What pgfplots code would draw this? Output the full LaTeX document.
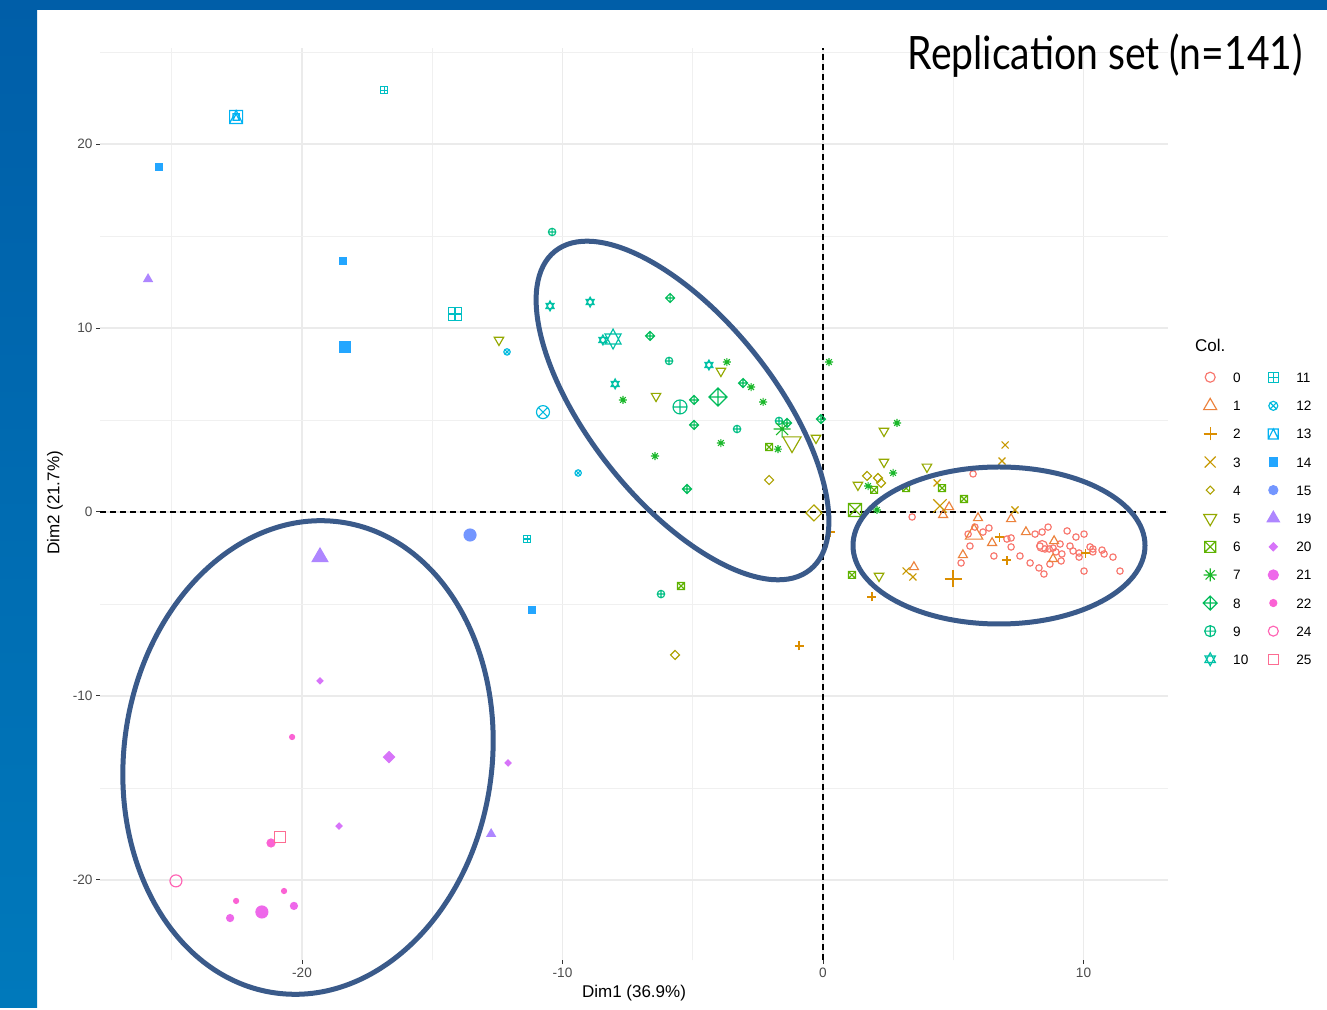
\documentclass[border=0pt]{standalone}
\usepackage{pgfplots}
\pgfplotsset{compat=1.18}
\usepackage{graphicx}
\usepackage{fontspec}
\setmainfont{Liberation Sans}
\newfontfamily\titlefont{Lato}
\usetikzlibrary{plotmarks}

\definecolor{c0}{HTML}{F8766D}
\definecolor{c1}{HTML}{EC823C}
\definecolor{c2}{HTML}{DB8E00}
\definecolor{c3}{HTML}{C79800}
\definecolor{c4}{HTML}{AEA200}
\definecolor{c5}{HTML}{94A900}
\definecolor{c6}{HTML}{5EB200}
\definecolor{c7}{HTML}{1AB82A}
\definecolor{c8}{HTML}{00BC5A}
\definecolor{c9}{HTML}{00BF84}
\definecolor{c10}{HTML}{00C1A6}
\definecolor{c11}{HTML}{00BFC4}
\definecolor{c12}{HTML}{00BADE}
\definecolor{c13}{HTML}{00B2F2}
\definecolor{c14}{HTML}{23A6FF}
\definecolor{c15}{HTML}{7396FF}
\definecolor{c19}{HTML}{AE86FF}
\definecolor{c20}{HTML}{D774F9}
\definecolor{c21}{HTML}{EE68EA}
\definecolor{c22}{HTML}{FB62D4}
\definecolor{c24}{HTML}{FF63B4}
\definecolor{c25}{HTML}{FD6C92}
\definecolor{ellcol}{HTML}{3A5A8A}
\definecolor{bandtop}{HTML}{005EA8}
\definecolor{bandbot}{HTML}{0079BB}

% --- R-like plot marks ---
\pgfdeclareplotmark{utri}{%
  \pgfpathmoveto{\pgfqpoint{0pt}{\pgfplotmarksize}}%
  \pgfpathlineto{\pgfqpoint{0.866\pgfplotmarksize}{-0.5\pgfplotmarksize}}%
  \pgfpathlineto{\pgfqpoint{-0.866\pgfplotmarksize}{-0.5\pgfplotmarksize}}%
  \pgfpathclose\pgfusepathqstroke}
\pgfdeclareplotmark{utri*}{%
  \pgfpathmoveto{\pgfqpoint{0pt}{\pgfplotmarksize}}%
  \pgfpathlineto{\pgfqpoint{0.866\pgfplotmarksize}{-0.5\pgfplotmarksize}}%
  \pgfpathlineto{\pgfqpoint{-0.866\pgfplotmarksize}{-0.5\pgfplotmarksize}}%
  \pgfpathclose\pgfusepathqfillstroke}
\pgfdeclareplotmark{dtri}{%
  \pgfpathmoveto{\pgfqpoint{0pt}{-\pgfplotmarksize}}%
  \pgfpathlineto{\pgfqpoint{0.866\pgfplotmarksize}{0.5\pgfplotmarksize}}%
  \pgfpathlineto{\pgfqpoint{-0.866\pgfplotmarksize}{0.5\pgfplotmarksize}}%
  \pgfpathclose\pgfusepathqstroke}
\pgfdeclareplotmark{rdiam}{%
  \pgfpathmoveto{\pgfqpoint{0pt}{\pgfplotmarksize}}%
  \pgfpathlineto{\pgfqpoint{\pgfplotmarksize}{0pt}}%
  \pgfpathlineto{\pgfqpoint{0pt}{-\pgfplotmarksize}}%
  \pgfpathlineto{\pgfqpoint{-\pgfplotmarksize}{0pt}}%
  \pgfpathclose\pgfusepathqstroke}
\pgfdeclareplotmark{rdiam*}{%
  \pgfpathmoveto{\pgfqpoint{0pt}{\pgfplotmarksize}}%
  \pgfpathlineto{\pgfqpoint{\pgfplotmarksize}{0pt}}%
  \pgfpathlineto{\pgfqpoint{0pt}{-\pgfplotmarksize}}%
  \pgfpathlineto{\pgfqpoint{-\pgfplotmarksize}{0pt}}%
  \pgfpathclose\pgfusepathqfillstroke}
\pgfdeclareplotmark{rsq}{%
  \pgfpathrectangle{\pgfqpoint{-\pgfplotmarksize}{-\pgfplotmarksize}}{\pgfqpoint{2\pgfplotmarksize}{2\pgfplotmarksize}}%
  \pgfusepathqstroke}
\pgfdeclareplotmark{rsq*}{%
  \pgfpathrectangle{\pgfqpoint{-\pgfplotmarksize}{-\pgfplotmarksize}}{\pgfqpoint{2\pgfplotmarksize}{2\pgfplotmarksize}}%
  \pgfusepathqfillstroke}
\pgfdeclareplotmark{rx}{%
  \pgfpathmoveto{\pgfqpoint{-\pgfplotmarksize}{-\pgfplotmarksize}}\pgfpathlineto{\pgfqpoint{\pgfplotmarksize}{\pgfplotmarksize}}%
  \pgfpathmoveto{\pgfqpoint{-\pgfplotmarksize}{\pgfplotmarksize}}\pgfpathlineto{\pgfqpoint{\pgfplotmarksize}{-\pgfplotmarksize}}%
  \pgfusepathqstroke}
\pgfdeclareplotmark{rplus}{%
  \pgfpathmoveto{\pgfqpoint{-\pgfplotmarksize}{0pt}}\pgfpathlineto{\pgfqpoint{\pgfplotmarksize}{0pt}}%
  \pgfpathmoveto{\pgfqpoint{0pt}{-\pgfplotmarksize}}\pgfpathlineto{\pgfqpoint{0pt}{\pgfplotmarksize}}%
  \pgfusepathqstroke}
\pgfdeclareplotmark{sqx}{%
  \pgfpathrectangle{\pgfqpoint{-\pgfplotmarksize}{-\pgfplotmarksize}}{\pgfqpoint{2\pgfplotmarksize}{2\pgfplotmarksize}}%
  \pgfpathmoveto{\pgfqpoint{-\pgfplotmarksize}{-\pgfplotmarksize}}\pgfpathlineto{\pgfqpoint{\pgfplotmarksize}{\pgfplotmarksize}}%
  \pgfpathmoveto{\pgfqpoint{-\pgfplotmarksize}{\pgfplotmarksize}}\pgfpathlineto{\pgfqpoint{\pgfplotmarksize}{-\pgfplotmarksize}}%
  \pgfusepathqstroke}
\pgfdeclareplotmark{sqplus}{%
  \pgfpathrectangle{\pgfqpoint{-\pgfplotmarksize}{-\pgfplotmarksize}}{\pgfqpoint{2\pgfplotmarksize}{2\pgfplotmarksize}}%
  \pgfpathmoveto{\pgfqpoint{-\pgfplotmarksize}{0pt}}\pgfpathlineto{\pgfqpoint{\pgfplotmarksize}{0pt}}%
  \pgfpathmoveto{\pgfqpoint{0pt}{-\pgfplotmarksize}}\pgfpathlineto{\pgfqpoint{0pt}{\pgfplotmarksize}}%
  \pgfusepathqstroke}
\pgfdeclareplotmark{sqtri}{%
  \pgfpathrectangle{\pgfqpoint{-\pgfplotmarksize}{-\pgfplotmarksize}}{\pgfqpoint{2\pgfplotmarksize}{2\pgfplotmarksize}}%
  \pgfpathmoveto{\pgfqpoint{-\pgfplotmarksize}{-\pgfplotmarksize}}%
  \pgfpathlineto{\pgfqpoint{0pt}{\pgfplotmarksize}}%
  \pgfpathlineto{\pgfqpoint{\pgfplotmarksize}{-\pgfplotmarksize}}%
  \pgfusepathqstroke}
\pgfdeclareplotmark{dplus}{%
  \pgfpathmoveto{\pgfqpoint{0pt}{\pgfplotmarksize}}%
  \pgfpathlineto{\pgfqpoint{\pgfplotmarksize}{0pt}}%
  \pgfpathlineto{\pgfqpoint{0pt}{-\pgfplotmarksize}}%
  \pgfpathlineto{\pgfqpoint{-\pgfplotmarksize}{0pt}}%
  \pgfpathclose
  \pgfpathmoveto{\pgfqpoint{-\pgfplotmarksize}{0pt}}\pgfpathlineto{\pgfqpoint{\pgfplotmarksize}{0pt}}%
  \pgfpathmoveto{\pgfqpoint{0pt}{-\pgfplotmarksize}}\pgfpathlineto{\pgfqpoint{0pt}{\pgfplotmarksize}}%
  \pgfusepathqstroke}
\pgfdeclareplotmark{ast}{%
  \pgfpathmoveto{\pgfqpoint{-\pgfplotmarksize}{0pt}}\pgfpathlineto{\pgfqpoint{\pgfplotmarksize}{0pt}}%
  \pgfpathmoveto{\pgfqpoint{0pt}{-\pgfplotmarksize}}\pgfpathlineto{\pgfqpoint{0pt}{\pgfplotmarksize}}%
  \pgfpathmoveto{\pgfqpoint{-0.707\pgfplotmarksize}{-0.707\pgfplotmarksize}}\pgfpathlineto{\pgfqpoint{0.707\pgfplotmarksize}{0.707\pgfplotmarksize}}%
  \pgfpathmoveto{\pgfqpoint{-0.707\pgfplotmarksize}{0.707\pgfplotmarksize}}\pgfpathlineto{\pgfqpoint{0.707\pgfplotmarksize}{-0.707\pgfplotmarksize}}%
  \pgfusepathqstroke}
\pgfdeclareplotmark{david}{%
  \pgfpathmoveto{\pgfqpoint{0pt}{\pgfplotmarksize}}%
  \pgfpathlineto{\pgfqpoint{0.8\pgfplotmarksize}{-0.5\pgfplotmarksize}}%
  \pgfpathlineto{\pgfqpoint{-0.8\pgfplotmarksize}{-0.5\pgfplotmarksize}}%
  \pgfpathclose
  \pgfpathmoveto{\pgfqpoint{0pt}{-\pgfplotmarksize}}%
  \pgfpathlineto{\pgfqpoint{0.8\pgfplotmarksize}{0.5\pgfplotmarksize}}%
  \pgfpathlineto{\pgfqpoint{-0.8\pgfplotmarksize}{0.5\pgfplotmarksize}}%
  \pgfpathclose
  \pgfusepathqstroke}

\tikzset{
  pt/.style={only marks, line width=1.15pt, mark options={solid}},
  g0/.style={pt, color=c0, mark=o},
  g1/.style={pt, color=c1, mark=utri},
  g2/.style={pt, color=c2, mark=rplus},
  g3/.style={pt, color=c3, mark=rx},
  g4/.style={pt, color=c4, mark=rdiam},
  g5/.style={pt, color=c5, mark=dtri},
  g6/.style={pt, color=c6, mark=sqx},
  g7/.style={pt, color=c7, mark=ast},
  g8/.style={pt, color=c8, mark=dplus},
  g9/.style={pt, color=c9, mark=oplus},
  g10/.style={pt, color=c10, mark=david},
  g11/.style={pt, color=c11, mark=sqplus},
  g12/.style={pt, color=c12, mark=otimes},
  g13/.style={pt, color=c13, mark=sqtri},
  g14/.style={pt, color=c14, mark=rsq*},
  g15/.style={pt, color=c15, mark=*},
  g19/.style={pt, color=c19, mark=utri*},
  g20/.style={pt, color=c20, mark=rdiam*},
  g21/.style={pt, color=c21, mark=*},
  g22/.style={pt, color=c22, mark=*},
  g24/.style={pt, color=c24, mark=o},
  g25/.style={pt, color=c25, mark=rsq},
}

\begin{document}
\begin{tikzpicture}
\fill[white] (0pt,0pt) rectangle (1327pt,1007pt);
\shade[top color=bandtop, bottom color=bandbot] (0pt,0pt) rectangle (37pt,1007pt);
\fill[bandtop] (0pt,997pt) rectangle (1327pt,1007pt);

\begin{axis}[
  at={(100pt,47pt)}, anchor=south west,
  scale only axis, width=1068pt, height=912pt,
  xmin=-27.755, xmax=13.244, ymin=-24.35, ymax=25.22,
  axis line style={draw=none},
  tick align=outside, xtick pos=bottom, ytick pos=left,
  xtick={-20,-10,0,10}, ytick={-20,-10,0,10,20},
  minor xtick={-25,-15,-5,5}, minor ytick={-15,-5,5,15,25},
  major tick length=4pt, minor tick length=0pt,
  tick style={color=black!80, line width=1pt},
  grid=both,
  major grid style={color=black!8, line width=1.4pt},
  minor grid style={color=black!6, line width=0.7pt},
  /pgf/number format/assume math mode=true,
  tick label style={color=black!70, font=\fontsize{13.6}{16}\selectfont},
  legend columns=2,
  legend cell align=left,
  legend image code/.code={\path[draw=none,fill=none] (0pt,-6pt) rectangle (16pt,6pt); \draw[#1] plot coordinates {(8pt,0pt)};},
  legend style={at={(1.0318,0.6469)}, anchor=north west, draw=none, fill=none,
    inner sep=0pt, font=\fontsize{13.6}{16}\selectfont, row sep=14.1pt,
    nodes={inner sep=2pt, text height=10pt, text depth=0pt},
    /tikz/every odd column/.append style={column sep=13pt},
    /tikz/every even column/.append style={column sep=15pt}},
]
\draw[black, line width=1.6pt, dash pattern=on 6pt off 4pt] (axis cs:0,-24.35) -- (axis cs:0,25.22);
\draw[black, line width=1.6pt, dash pattern=on 6pt off 4pt] (axis cs:-27.755,0) -- (axis cs:13.244,0);

% ---- individual points ----
\addplot[g0, mark size=3.2pt, forget plot] coordinates {
(5.76,2.07) (3.42,-0.27) (5.57,-1.20) (5.83,-0.82) (5.64,-1.85) (5.30,-2.77) (6.14,-1.09) (6.37,-0.87)
(6.56,-2.39) (7.06,-1.47) (7.22,-1.41) (7.22,-1.90) (7.56,-2.39) (7.95,-2.77) (8.14,-1.20) (8.41,-1.09)
(8.64,-0.82) (8.29,-3.04) (8.48,-3.37) (8.33,-1.85) (8.52,-2.01) (8.68,-2.01) (8.83,-1.96) (9.10,-1.74)
(9.17,-2.28) (9.14,-2.66) (8.71,-2.83) (9.37,-1.03) (9.48,-1.85) (9.71,-1.36) (9.60,-2.12) (9.83,-2.23)
(9.83,-2.45) (10.02,-1.20) (10.02,-3.21) (10.25,-1.90) (10.36,-2.01) (10.36,-2.17) (10.71,-2.07)
(10.79,-2.28) (11.13,-2.45) (11.40,-3.21) (8.94,-2.17)};
\addplot[g1, mark size=5.2pt, forget plot] coordinates {
(5.95,-0.33) (5.37,-2.34) (6.49,-1.68) (7.22,-0.38) (7.79,-1.09) (8.87,-1.58) (8.83,-2.55) (4.84,0.27) (4.61,-0.16) (3.49,-2.99)};
\addplot[g2, mark size=4.5pt, forget plot] coordinates {
(6.76,-1.36) (7.06,-2.61) (10.06,-2.23) (1.88,-4.62) (-0.92,-7.28) (0.27,-1.09)};
\addplot[g3, mark size=3.5pt, forget plot] coordinates {
(6.99,3.64) (6.87,2.77) (4.38,1.58) (7.37,0.11) (3.19,-3.21) (3.45,-3.53)};
\addplot[g4, mark size=4.5pt, forget plot] coordinates {
(-2.07,1.74) (-5.68,-7.77) (1.69,1.96) (2.11,1.85) (2.23,1.58)};
\addplot[g5, mark size=5.5pt, forget plot] coordinates {
(-12.44,9.35) (-6.41,6.30) (-3.92,7.66) (-0.27,4.02) (2.34,4.40) (2.34,2.72) (3.99,2.45) (1.34,1.47) (2.15,-3.48)};
\addplot[g6, mark size=3.5pt, forget plot] coordinates {
(-5.45,-4.02) (1.11,-3.42) (1.96,1.20) (3.19,1.30) (4.57,1.30) (5.41,0.71) (-2.07,3.53)};
\addplot[g7, mark size=4pt, forget plot] coordinates {
(-3.69,8.15) (-2.76,6.79) (-2.30,5.98) (-3.92,3.75) (-7.68,6.09) (-6.45,3.04) (-1.73,3.42) (0.23,8.15)
(2.84,4.84) (2.69,2.12) (1.73,1.41) (2.07,0.11)};
\addplot[g8, mark size=4.5pt, forget plot] coordinates {
(-5.87,11.63) (-6.64,9.57) (-4.95,6.09) (-4.95,4.73) (-3.07,7.01) (-5.22,1.25) (-0.08,5.05) (-1.38,4.84)};
\addplot[g9, mark size=3.7pt, forget plot] coordinates {
(-10.40,15.22) (-5.91,8.21) (-3.30,4.51) (-1.69,4.95) (-6.22,-4.46)};
\addplot[g10, mark size=5pt, forget plot] coordinates {
(-10.48,11.20) (-8.94,11.41) (-8.45,9.35) (-7.98,6.96) (-4.38,7.99)};
\addplot[g11, mark size=3.2pt, forget plot] coordinates {(-16.85,22.93) (-11.36,-1.47)};
\addplot[g12, mark size=3.2pt, forget plot] coordinates {(-12.13,8.70) (-9.40,2.12)};
\addplot[g13, mark size=3.2pt, forget plot] coordinates {(-22.53,21.47)};
\addplot[g14, mark size=3.2pt, forget plot] coordinates {(-25.49,18.75) (-18.43,13.64) (-11.17,-5.33)};
\addplot[g19, mark size=4.8pt, forget plot] coordinates {(-25.91,12.66) (-12.74,-17.50)};
\addplot[g20, mark size=3pt, forget plot] coordinates {(-19.31,-9.18) (-12.09,-13.64) (-18.58,-17.07)};
\addplot[g21, mark size=3.5pt, forget plot] coordinates {(-22.76,-22.07) (-20.31,-21.41)};
\addplot[g22, mark size=2.5pt, forget plot] coordinates {(-20.38,-12.23) (-22.53,-21.14) (-20.69,-20.60)};

% ---- group mean points ----
\addplot[g0, mark size=5.5pt, forget plot] coordinates {(8.41,-1.85)};
\addplot[g1, mark size=10pt, forget plot] coordinates {(5.80,-1.20)};
\addplot[g2, mark size=8.5pt, forget plot] coordinates {(4.99,-3.64)};
\addplot[g3, mark size=6.7pt, forget plot] coordinates {(4.49,0.33)};
\addplot[g4, mark size=8pt, forget plot] coordinates {(-0.35,-0.05)};
\addplot[g5, mark size=10.5pt, forget plot] coordinates {(-1.19,3.80)};
\addplot[g6, mark size=6.5pt, forget plot] coordinates {(1.23,0.11)};
\addplot[g7, mark size=8.5pt, forget plot] coordinates {(-1.57,4.51)};
\addplot[g8, mark size=9pt, forget plot] coordinates {(-4.03,6.25)};
\addplot[g9, mark size=7pt, forget plot] coordinates {(-5.49,5.71)};
\addplot[g10, mark size=10pt, forget plot] coordinates {(-8.06,9.40)};
\addplot[g11, mark size=6.5pt, forget plot] coordinates {(-14.13,10.76)};
\addplot[g12, mark size=6.5pt, forget plot] coordinates {(-10.75,5.43)};
\addplot[g13, mark size=6.5pt, forget plot] coordinates {(-22.53,21.47)};
\addplot[g14, mark size=5.5pt, forget plot] coordinates {(-18.35,8.97)};
\addplot[g15, mark size=6pt, forget plot] coordinates {(-13.55,-1.25)};
\addplot[g19, mark size=9pt, forget plot] coordinates {(-19.31,-2.45)};
\addplot[g20, mark size=5.5pt, forget plot] coordinates {(-16.66,-13.32)};
\addplot[g21, mark size=6pt, forget plot] coordinates {(-21.54,-21.74)};
\addplot[g22, mark size=4pt, forget plot] coordinates {(-21.19,-17.99)};
\addplot[g24, mark size=6pt, forget plot] coordinates {(-24.84,-20.05)};
\addplot[g25, mark size=5.5pt, forget plot] coordinates {(-20.84,-17.66)};

% ---- legend (two columns: 0-10 | 11-25) ----
\addlegendimage{g0, mark size=5pt}\addlegendentry{0}
\addlegendimage{g11, mark size=5pt}\addlegendentry{11}
\addlegendimage{g1, mark size=7.5pt}\addlegendentry{1}
\addlegendimage{g12, mark size=4.5pt}\addlegendentry{12}
\addlegendimage{g2, mark size=6.5pt}\addlegendentry{2}
\addlegendimage{g13, mark size=5pt}\addlegendentry{13}
\addlegendimage{g3, mark size=5.5pt}\addlegendentry{3}
\addlegendimage{g14, mark size=4pt}\addlegendentry{14}
\addlegendimage{g4, mark size=4pt}\addlegendentry{4}
\addlegendimage{g15, mark size=4.5pt}\addlegendentry{15}
\addlegendimage{g5, mark size=7.5pt}\addlegendentry{5}
\addlegendimage{g19, mark size=7pt}\addlegendentry{19}
\addlegendimage{g6, mark size=5.5pt}\addlegendentry{6}
\addlegendimage{g20, mark size=4pt}\addlegendentry{20}
\addlegendimage{g7, mark size=6.5pt}\addlegendentry{7}
\addlegendimage{g21, mark size=5pt}\addlegendentry{21}
\addlegendimage{g8, mark size=7pt}\addlegendentry{8}
\addlegendimage{g22, mark size=3.5pt}\addlegendentry{22}
\addlegendimage{g9, mark size=5.5pt}\addlegendentry{9}
\addlegendimage{g24, mark size=5pt}\addlegendentry{24}
\addlegendimage{g10, mark size=6.5pt}\addlegendentry{10}
\addlegendimage{g25, mark size=5pt}\addlegendentry{25}
\end{axis}

% annotation ellipses
\draw[ellcol, line width=5pt, rotate around={-51.3:(682.5pt,596.5pt)}] (682.5pt,596.5pt) ellipse (204pt and 92pt);
\draw[ellcol, line width=5pt] (999pt,461.5pt) ellipse (146pt and 78.5pt);
\draw[ellcol, line width=5pt, rotate around={82.1:(308pt,249.5pt)}] (308pt,249.5pt) ellipse (237.7pt and 184pt);

% texts
\node[anchor=base east, inner sep=0pt] at (1303pt,937pt) {\resizebox{395pt}{\height}{\titlefont\fontsize{46}{50}\selectfont Replication set (n=141)}};
\node[anchor=west, inner sep=0pt, font=\fontsize{17}{20}\selectfont] at (1195pt,662pt) {Col.};
\node[font=\fontsize{17}{20}\selectfont] at (634pt,14pt) {Dim1 (36.9\%)};
\node[rotate=90, font=\fontsize{17}{20}\selectfont] at (55pt,504pt) {Dim2 (21.7\%)};
\end{tikzpicture}
\end{document}
